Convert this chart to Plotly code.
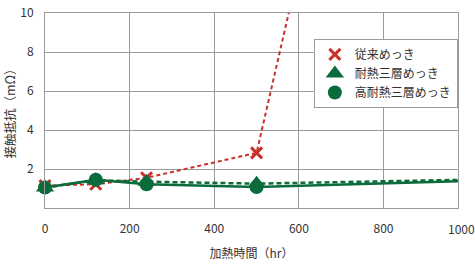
import plotly.graph_objects as go

hours = [0, 120, 240, 500, 1000]
conventional = [1.15, 1.22, 1.55, 2.83, 50.0]
heat_res = [1.05, 1.42, 1.35, 1.25, 1.45]
high_heat_res = [1.05, 1.45, 1.22, 1.08, 1.38]
names = ["従来めっき", "耐熱三層めっき", "高耐熱三層めっき"]
x_ticks = [0, 200, 400, 600, 800]
last_tick = 1000
y_ticks = [2, 4, 6, 8, 10]
x_max = 976

RED = "#c8302a"
GREEN = "#0b6b3b"
FONT = "Noto Sans CJK JP"

fig = go.Figure()
fig.add_trace(go.Scatter(x=hours, y=conventional, mode="lines", showlegend=False,
                         line=dict(color=RED, width=2, dash="4px,3px"), hoverinfo="skip"))
fig.add_trace(go.Scatter(x=hours, y=heat_res, mode="lines", showlegend=False,
                         line=dict(color=GREEN, width=2.5, dash="5px,3px"), hoverinfo="skip"))
fig.add_trace(go.Scatter(x=hours, y=high_heat_res, mode="lines", showlegend=False,
                         line=dict(color=GREEN, width=2.5), hoverinfo="skip"))
fig.add_trace(go.Scatter(x=hours, y=conventional, mode="markers", name=names[0],
                         cliponaxis=False, legendrank=1,
                         marker=dict(symbol="x-thin", size=11, color=RED,
                                     line=dict(color=RED, width=3))))
fig.add_trace(go.Scatter(x=hours, y=high_heat_res, mode="markers", name=names[2],
                         cliponaxis=False, legendrank=3,
                         marker=dict(symbol="circle", size=14, color=GREEN)))
fig.add_trace(go.Scatter(x=hours, y=heat_res, mode="markers", name=names[1],
                         cliponaxis=False, legendrank=2,
                         marker=dict(symbol="triangle-up", size=16, color=GREEN)))

fig.add_annotation(x=last_tick / x_max, y=0, xref="paper", yref="paper", text=str(last_tick),
                   showarrow=False, xanchor="center", yanchor="top", xshift=-7, yshift=-10,
                   font=dict(family=FONT, size=12, color="#333"))

fig.update_layout(
    width=475, height=270,
    margin=dict(l=45, r=17, t=13, b=62),
    paper_bgcolor="white", plot_bgcolor="white",
    font=dict(family=FONT, size=12, color="#333"),
    xaxis=dict(range=[0, x_max], tickvals=x_ticks, showgrid=True, gridcolor="#9a9a9a",
               gridwidth=1, zeroline=False, showline=True, linecolor="#9a9a9a",
               mirror=True, ticks="", ticklabelstandoff=10, automargin=False,
               title=dict(text="加熱時間（hr）", standoff=14, font=dict(size=12))),
    yaxis=dict(range=[0, 10], tickvals=y_ticks, showgrid=True, gridcolor="#9a9a9a",
               gridwidth=1, zeroline=False, showline=True, linecolor="#9a9a9a",
               mirror=True, ticks="", ticklabelstandoff=8, automargin=False,
               title=dict(text="接触抵抗（mΩ）", standoff=6, font=dict(size=12.5))),
    legend=dict(x=0.651, y=0.867, xanchor="left", yanchor="top",
                bgcolor="white", bordercolor="#9a9a9a", borderwidth=1,
                font=dict(family=FONT, size=12, color="#333"),
                itemwidth=30, tracegroupgap=0),
)

fig.write_html("out.html")
